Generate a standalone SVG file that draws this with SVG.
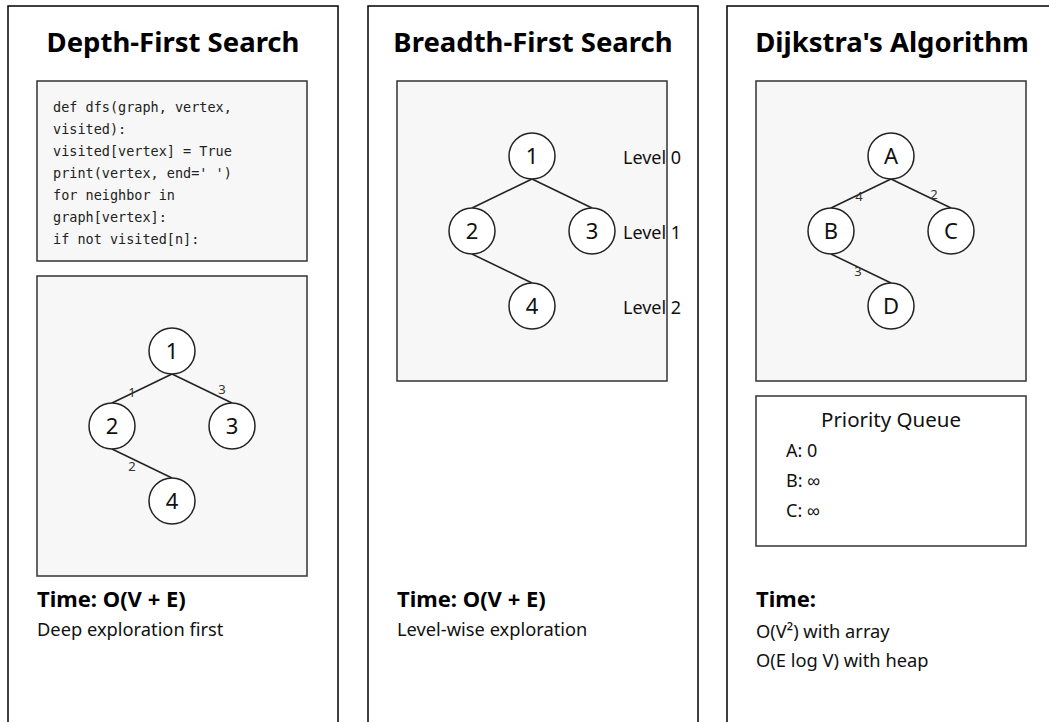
<svg xmlns="http://www.w3.org/2000/svg" width="1049" height="722" viewBox="0 0 1049 722">
<style>
.panel{fill:#fff;stroke:#000;stroke-width:1.5}
.box{fill:#f7f7f7;stroke:#333;stroke-width:1.5}
.wbox{fill:#fff;stroke:#333;stroke-width:1.5}
.title{font-family:"Noto Sans",sans-serif;font-weight:bold;font-size:27.5px;fill:#000;text-anchor:middle}
.code{font-family:"DejaVu Sans Mono","Liberation Mono",monospace;font-size:13.5px;fill:#222}
.node circle{fill:#fff;stroke:#222;stroke-width:1.5}
.node text{font-family:"Noto Sans",sans-serif;font-size:22px;fill:#111;text-anchor:middle}
.edge{stroke:#222;stroke-width:1.5;fill:none}
.elabel{font-family:"Noto Sans",sans-serif;font-size:13px;fill:#333;text-anchor:middle}
.lvl{font-family:"Noto Sans",sans-serif;font-size:18px;fill:#111}
.th{font-family:"Noto Sans",sans-serif;font-weight:bold;font-size:22px;fill:#000}
.tx{font-family:"Noto Sans",sans-serif;font-size:18.3px;fill:#111}
.pq{font-family:"Noto Sans",sans-serif;font-size:20.5px;fill:#111}
.pqi{font-family:"Noto Sans",sans-serif;font-size:18px;fill:#111}
</style>

<g id="panel-dfs">
<rect class="panel" x="8" y="6" width="330" height="740"/>
<text class="title" x="173" y="52">Depth-First Search</text>
<rect class="box" x="37" y="81" width="270" height="180"/>
<g class="code">
<text x="53" y="112">def dfs(graph, vertex,</text>
<text x="53" y="134">visited):</text>
<text x="53" y="156">visited[vertex] = True</text>
<text x="53" y="178">print(vertex, end=' ')</text>
<text x="53" y="200">for neighbor in</text>
<text x="53" y="222">graph[vertex]:</text>
<text x="53" y="244">if not visited[n]:</text>
</g>
<rect class="box" x="37" y="276" width="270" height="300"/>
<text class="th" x="37" y="607">Time: O(V + E)</text>
<text class="tx" x="37" y="636">Deep exploration first</text>
</g>

<g id="panel-bfs">
<rect class="panel" x="368" y="6" width="330" height="740"/>
<text class="title" x="533" y="52">Breadth-First Search</text>
<rect class="box" x="397" y="81" width="270" height="300"/>
<text class="th" x="397" y="607">Time: O(V + E)</text>
<text class="tx" x="397" y="636">Level-wise exploration</text>
</g>

<g id="panel-dijkstra">
<rect class="panel" x="727" y="6" width="330" height="740"/>
<text class="title" x="892" y="52">Dijkstra's Algorithm</text>
<rect class="box" x="756" y="81" width="270" height="300"/>
<rect class="wbox" x="756" y="396" width="270" height="150"/>
<text class="pq" x="891" y="427" text-anchor="middle">Priority Queue</text>
<text class="pqi" x="786" y="457">A: 0</text>
<text class="pqi" x="786" y="487">B: ∞</text>
<text class="pqi" x="786" y="517">C: ∞</text>
<text class="th" x="756" y="607">Time:</text>
<text class="tx" x="756" y="638">O(V²) with array</text>
<text class="tx" x="756" y="667">O(E log V) with heap</text>
</g>

<g id="connectors">
<line class="edge" x1="172" y1="374" x2="112" y2="403"/>
<line class="edge" x1="172" y1="374" x2="232" y2="403"/>
<line class="edge" x1="112" y1="449" x2="172" y2="478"/>
<text class="elabel" x="132" y="397">1</text>
<text class="elabel" x="222" y="394">3</text>
<text class="elabel" x="132" y="471">2</text>

<line class="edge" x1="532" y1="179" x2="472" y2="208"/>
<line class="edge" x1="532" y1="179" x2="592" y2="208"/>
<line class="edge" x1="472" y1="254" x2="532" y2="283"/>

<line class="edge" x1="891" y1="179" x2="831" y2="208"/>
<line class="edge" x1="891" y1="179" x2="951" y2="208"/>
<line class="edge" x1="831" y1="254" x2="891" y2="283"/>
<text class="elabel" x="859" y="201">4</text>
<text class="elabel" x="934" y="199">2</text>
<text class="elabel" x="858" y="276">3</text>
</g>

<g id="dfs-n1" class="node"><circle cx="172" cy="351" r="23"/><text x="172" y="359">1</text></g>
<g id="dfs-n2" class="node"><circle cx="112" cy="426" r="23"/><text x="112" y="434">2</text></g>
<g id="dfs-n3" class="node"><circle cx="232" cy="426" r="23"/><text x="232" y="434">3</text></g>
<g id="dfs-n4" class="node"><circle cx="172" cy="501" r="23"/><text x="172" y="509">4</text></g>

<g id="bfs-n1" class="node"><circle cx="532" cy="156" r="23"/><text x="532" y="164">1</text></g>
<g id="bfs-n2" class="node"><circle cx="472" cy="231" r="23"/><text x="472" y="239">2</text></g>
<g id="bfs-n3" class="node"><circle cx="592" cy="231" r="23"/><text x="592" y="239">3</text></g>
<g id="bfs-n4" class="node"><circle cx="532" cy="306" r="23"/><text x="532" y="314">4</text></g>
<g id="bfs-levels">
<text class="lvl" x="623" y="164">Level 0</text>
<text class="lvl" x="623" y="239">Level 1</text>
<text class="lvl" x="623" y="314">Level 2</text>
</g>

<g id="dj-A" class="node"><circle cx="891" cy="156" r="23"/><text x="891" y="164">A</text></g>
<g id="dj-B" class="node"><circle cx="831" cy="231" r="23"/><text x="831" y="239">B</text></g>
<g id="dj-C" class="node"><circle cx="951" cy="231" r="23"/><text x="951" y="239">C</text></g>
<g id="dj-D" class="node"><circle cx="891" cy="306" r="23"/><text x="891" y="314">D</text></g>
</svg>
